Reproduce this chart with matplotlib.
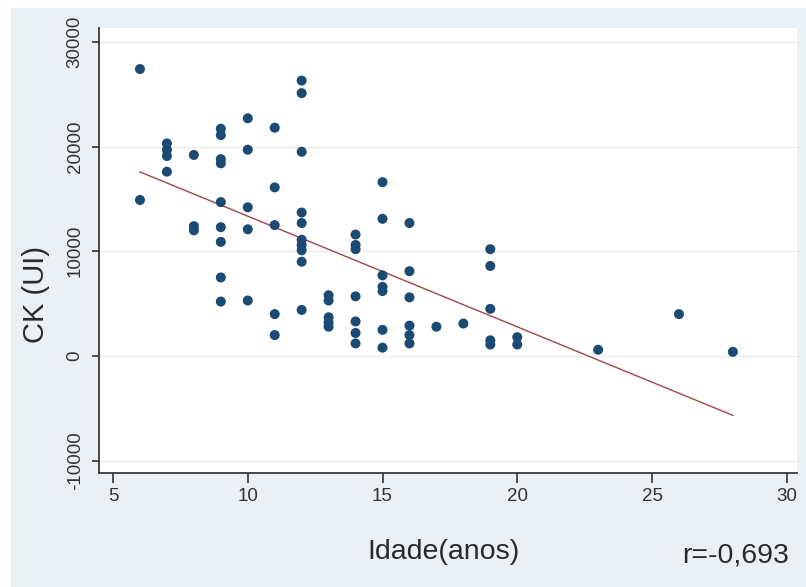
import numpy as np
import matplotlib.pyplot as plt
from matplotlib.patches import Rectangle

# idade (anos) e CK (UI) de cada paciente
idade = [6, 6,
         7, 7, 7, 7,
         8, 8, 8,
         9, 9, 9, 9, 9, 9, 9, 9, 9,
         10, 10, 10, 10, 10,
         11, 11, 11, 11, 11,
         12, 12, 12, 12, 12, 12, 12, 12, 12, 12,
         13, 13, 13, 13, 13,
         14, 14, 14, 14, 14, 14, 14,
         15, 15, 15, 15, 15, 15, 15,
         16, 16, 16, 16, 16, 16,
         17, 18,
         19, 19, 19, 19, 19,
         20, 20,
         23, 26, 28]
ck = [27400, 14900,
      20300, 19700, 19100, 17600,
      19200, 12400, 12000,
      21700, 21100, 18800, 18400, 14700, 12300, 10900, 7500, 5200,
      22700, 19700, 14200, 12100, 5300,
      21800, 16100, 12500, 4000, 2000,
      26300, 25100, 19500, 13700, 12700, 11100, 10600, 10100, 9000, 4400,
      5800, 5300, 3700, 3200, 2800,
      11600, 10600, 10200, 5700, 3300, 2200, 1200,
      16600, 13100, 7700, 6600, 6200, 2500, 800,
      12700, 8100, 5600, 2900, 2000, 1200,
      2800, 3100,
      10200, 8600, 4500, 1500, 1100,
      1800, 1100,
      600, 4000, 400]
r_texto = 'r=-0,693'

x_ticks = [5, 10, 15, 20, 25, 30]
y_ticks = [-10000, 0, 10000, 20000, 30000]

fig = plt.figure(figsize=(8.06, 5.87), dpi=100, facecolor='white')
# fundo cinza azulado da regiao do grafico
fig.patches.append(Rectangle((11 / 806, 0), 1, (587 - 8) / 587,
                             transform=fig.transFigure, color='#eaf0f3', zorder=-5))

ax = fig.add_axes([99 / 806, (587 - 473) / 587, (797 - 99) / 806, (473 - 28) / 587])
ax.set_facecolor('white')

# reta de regressao linear
coef = np.polyfit(idade, ck, 1)
xr = np.array([min(idade), max(idade)])
ax.plot(xr, np.polyval(coef, xr), color='#a0464c', lw=1.0, zorder=3)

ax.scatter(idade, ck, s=52, color='#1b4a73', edgecolors='none', zorder=4)

ax.set_xlim(4.48, 30.38)
ax.set_ylim(-11170, 31320)
ax.set_xticks(x_ticks)
ax.set_yticks(y_ticks)
ax.set_yticklabels([str(v) for v in y_ticks], rotation=90, va='center')
ax.tick_params(axis='both', labelsize=13.5, colors='#333333', width=1.2)
ax.tick_params(axis='y', length=5, pad=6)
ax.tick_params(axis='x', length=7, pad=4)

ax.grid(axis='y', color='#e8ecee', lw=1)
ax.set_axisbelow(True)
for lado in ['top', 'right']:
    ax.spines[lado].set_visible(False)
for lado in ['left', 'bottom']:
    ax.spines[lado].set_color('#3a3a3a')
    ax.spines[lado].set_linewidth(1.3)

fig.text(443 / 806, 1 - 552 / 587, 'Idade(anos)', fontsize=20.5, color='#2a2a2a',
         ha='center', va='center', family='Liberation Sans')
fig.text(36 / 806, 1 - 295 / 587, 'CK (UI)', fontsize=21, color='#2a2a2a',
         ha='center', va='center', rotation=90, family='Liberation Sans')
fig.text(736 / 806, 1 - 555 / 587, r_texto, fontsize=20.5, color='#2a2a2a',
         ha='center', va='center', family='Liberation Sans')

for lbl in ax.get_xticklabels() + ax.get_yticklabels():
    lbl.set_family('Liberation Sans')

fig.savefig('out.png', dpi=100)
